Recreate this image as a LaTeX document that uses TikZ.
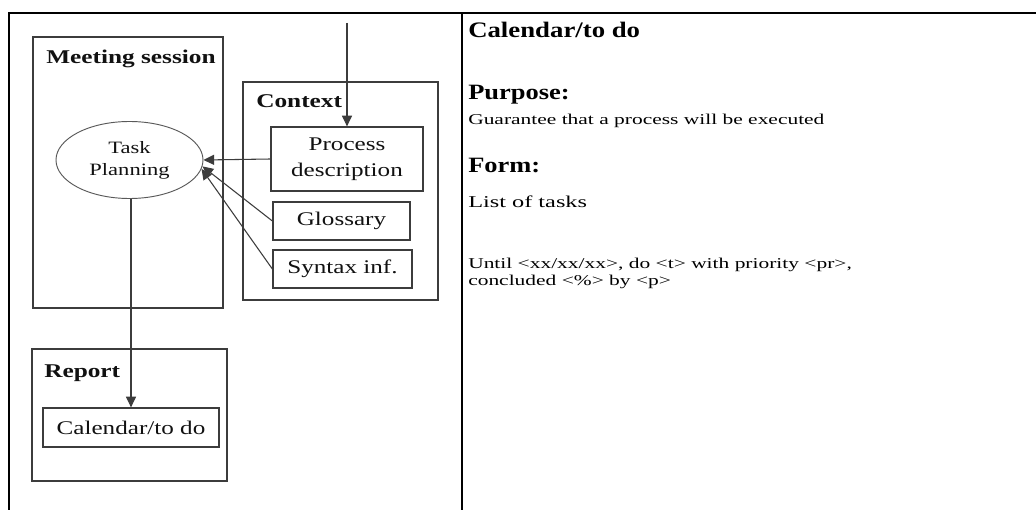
\documentclass[tikz,border=0pt]{standalone}
\usepackage{fontspec}
\setmainfont{Liberation Serif}
\newfontfamily\widefont[FakeStretch=1.3]{Liberation Serif}
\newfontfamily\hfont[FakeStretch=1.21]{Liberation Serif}
\newfontfamily\sfontA[FakeStretch=1.43]{Liberation Serif}
\newfontfamily\sfontB[FakeStretch=1.47]{Liberation Serif}
\usetikzlibrary{arrows.meta,shapes.geometric}
\definecolor{boxgray}{HTML}{3C3C3C}
\definecolor{inkc}{HTML}{111111}
\begin{document}
\begin{tikzpicture}[x=0.75pt,y=-0.75pt,
  box/.style={draw=boxgray,line width=0.95pt,inner sep=0pt,rectangle},
  lbl/.style={font=\widefont\fontsize{14.5}{19.5}\selectfont,text=inkc,align=center},
  hdr/.style={font=\widefont\bfseries\fontsize{14.6}{17}\selectfont,text=inkc,anchor=base west,inner sep=0pt},
  arr/.style={draw=boxgray,line width=0.8pt,-{Triangle[width=7.5pt,length=8pt]}},
  rt/.style={anchor=base west,inner sep=0pt,text=black},
  tline/.style={line width=1.7pt,draw=black}]
\fill[white] (0,0) rectangle (1036,510);
\useasboundingbox (0,0) rectangle (1036,510);
% table lines
\draw[tline] (8,13) -- (1036,13);
\draw[tline] (9,13) -- (9,510);
\draw[tline] (462,13) -- (462,510);
% containers
\node[box,minimum width=142.5pt,minimum height=203.25pt] (meet) at (128,172.5) {};
\node[box,minimum width=146.25pt,minimum height=163.5pt] (ctx) at (340.5,191) {};
\node[box,minimum width=146.25pt,minimum height=99pt] (rep) at (129.5,415) {};
\node[hdr] (meetT) at (46,64) {Meeting session};
\node[hdr] (ctxT) at (256,108) {Context};
\node[hdr] (repT) at (44,377) {Report};
% inner boxes
\node[box,lbl,minimum width=114pt,minimum height=48pt] (proc) at (347,159) {Process\\description};
\node[box,lbl,minimum width=102.75pt,minimum height=28.5pt] (gloss) at (341.5,221) {Glossary};
\node[box,lbl,minimum width=104.25pt,minimum height=28.5pt] (syn) at (342.5,269) {Syntax inf.};
\node[box,lbl,minimum width=132pt,minimum height=29.25pt] (cal) at (131,427.5) {Calendar/to do};
\node[draw=boxgray!85,line width=0.7pt,ellipse,inner sep=0pt,minimum width=110.25pt,minimum height=57.75pt,
      font=\widefont\fontsize{13}{16.5}\selectfont,text=inkc,align=center] (task) at (129.5,160) {Task\\Planning};
% connectors
\coordinate (topin) at (347,23);
\draw[arr] (topin) -- (proc.north);
\draw[arr] (proc.west) -- (task.east);
\draw[arr] (gloss.west) -- (task.-5);
\draw[arr] (syn.west) -- (task.-7);
\draw[arr] (task.south -| cal.north) -- (cal.north);
% right panel text
\node[rt,font=\hfont\bfseries\fontsize{16.6}{19}\selectfont] (title) at (468,38) {Calendar/to do};
\node[rt,font=\hfont\bfseries\fontsize{16.4}{19}\selectfont] (purp) at (468,100) {Purpose:};
\node[rt,font=\sfontA\fontsize{11.25}{13}\selectfont] (purpT) at (468,124) {Guarantee that a process will be executed};
\node[rt,font=\hfont\bfseries\fontsize{16.4}{19}\selectfont] (form) at (468,172) {Form:};
\node[rt,font=\sfontB\fontsize{12.4}{14}\selectfont] (formT) at (468,207) {List of tasks};
\node[rt,font=\sfontA\fontsize{11.25}{13}\selectfont] (ex1) at (468,268) {Until <xx/xx/xx>, do <t> with priority <pr>,};
\node[rt,font=\sfontA\fontsize{11.25}{13}\selectfont] (ex2) at (468,285) {concluded <\%> by <p>};
\end{tikzpicture}
\end{document}
